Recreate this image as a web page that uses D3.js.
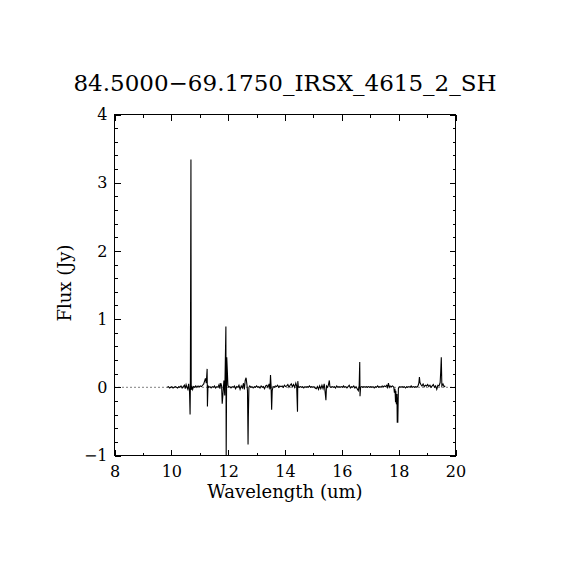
<!DOCTYPE html>
<html>
<head>
<meta charset="utf-8">
<script src="https://cdn.jsdelivr.net/npm/d3@7"></script>
<style>
	body { margin: 0; background: #fff; }
	text { font-family: 'DejaVu Serif', serif; fill: #000; }
</style>
</head>
<body>
<script>
// spectrum: wavelength (um) and flux (Jy)
const wave = [
	9.86, 9.90, 9.94, 9.98, 10.02, 10.06, 10.10, 10.14, 10.18, 10.22, 10.26, 10.30, 10.34, 10.38, 10.42, 10.46,
	10.49, 10.52, 10.55, 10.58, 10.61, 10.64, 10.66, 10.67, 10.69, 10.70, 10.72, 10.75, 10.78, 10.82, 10.86, 10.90,
	10.94, 10.98, 11.02, 11.06, 11.10, 11.14, 11.17, 11.20, 11.23, 11.26, 11.27, 11.29, 11.32, 11.36, 11.40, 11.44,
	11.48, 11.52, 11.56, 11.60, 11.64, 11.68, 11.71, 11.74, 11.77, 11.79, 11.82, 11.85, 11.88, 11.92, 11.93, 11.95,
	11.97, 11.99, 12.02, 12.06, 12.10, 12.14, 12.18, 12.22, 12.26, 12.30, 12.34, 12.38, 12.42, 12.46, 12.50, 12.54,
	12.57, 12.60, 12.63, 12.66, 12.68, 12.70, 12.71, 12.73, 12.76, 12.80, 12.84, 12.88, 12.92, 12.96, 13.00, 13.04,
	13.08, 13.12, 13.16, 13.20, 13.24, 13.28, 13.32, 13.36, 13.40, 13.44, 13.47, 13.49, 13.51, 13.53, 13.55, 13.58,
	13.62, 13.66, 13.70, 13.74, 13.78, 13.82, 13.86, 13.90, 13.94, 13.98, 14.02, 14.06, 14.10, 14.14, 14.18, 14.22,
	14.26, 14.30, 14.34, 14.38, 14.41, 14.44, 14.45, 14.47, 14.50, 14.54, 14.58, 14.62, 14.66, 14.70, 14.74, 14.78,
	14.82, 14.86, 14.90, 14.94, 14.98, 15.02, 15.06, 15.10, 15.14, 15.18, 15.22, 15.26, 15.30, 15.34, 15.38, 15.41,
	15.44, 15.46, 15.50, 15.53, 15.56, 15.58, 15.62, 15.66, 15.70, 15.74, 15.78, 15.82, 15.86, 15.90, 15.94, 15.98,
	16.02, 16.06, 16.10, 16.14, 16.18, 16.22, 16.26, 16.30, 16.34, 16.38, 16.42, 16.46, 16.50, 16.54, 16.58, 16.61,
	16.63, 16.64, 16.66, 16.70, 16.74, 16.78, 16.82, 16.86, 16.90, 16.94, 16.98, 17.02, 17.06, 17.10, 17.14, 17.18,
	17.22, 17.26, 17.30, 17.34, 17.38, 17.42, 17.46, 17.50, 17.54, 17.58, 17.61, 17.64, 17.67, 17.70, 17.74, 17.78,
	17.81, 17.83, 17.85, 17.87, 17.89, 17.90, 17.92, 17.94, 17.95, 17.96, 17.97, 17.99, 18.01, 18.04, 18.08, 18.12,
	18.16, 18.20, 18.24, 18.28, 18.32, 18.36, 18.40, 18.44, 18.48, 18.52, 18.56, 18.60, 18.64, 18.68, 18.71, 18.73,
	18.75, 18.78, 18.82, 18.86, 18.90, 18.94, 18.98, 19.02, 19.06, 19.10, 19.14, 19.18, 19.22, 19.26, 19.30, 19.34,
	19.38, 19.42, 19.46, 19.48, 19.50, 19.52, 19.56, 19.60, 19.64
];
const flux = [
	0.00, 0.01, -0.01, 0.00, 0.01, -0.01, 0.00, 0.01, 0.00, -0.01, 0.01, 0.00, 0.02, -0.01, 0.01, 0.03,
	-0.02, 0.04, 0.00, -0.03, 0.05, -0.06, -0.40, 0.03, 3.34, -0.04, 0.02, -0.03, 0.01, 0.00, 0.02, 0.00,
	0.02, 0.01, 0.02, 0.01, 0.03, 0.05, 0.09, 0.13, 0.06, 0.27, -0.28, 0.02, 0.00, 0.01, -0.01, 0.01,
	0.00, 0.02, -0.01, 0.01, 0.00, 0.04, -0.02, 0.06, 0.02, -0.24, -0.08, 0.10, -0.12, 0.89, -1.05, 0.44,
	0.25, 0.03, 0.00, 0.01, -0.01, 0.01, 0.00, 0.02, -0.02, 0.01, 0.00, 0.03, -0.03, 0.02, -0.01, 0.06,
	-0.03, 0.10, 0.14, 0.04, -0.05, -0.84, -0.45, 0.00, 0.02, 0.00, 0.01, -0.01, 0.01, 0.00, 0.02, 0.00,
	0.01, -0.01, 0.02, 0.00, 0.01, -0.02, 0.02, 0.03, 0.00, 0.05, -0.03, 0.18, 0.02, -0.33, -0.05, 0.01,
	0.00, 0.02, 0.01, 0.03, 0.00, 0.02, 0.01, 0.02, 0.00, 0.03, 0.01, 0.02, 0.04, 0.00, 0.03, 0.05,
	0.01, 0.04, 0.00, 0.06, 0.02, -0.36, 0.09, 0.01, 0.00, 0.01, 0.00, 0.01, -0.01, 0.01, 0.00, 0.01,
	0.00, 0.02, 0.00, 0.01, 0.00, 0.01, -0.01, -0.02, 0.01, -0.03, 0.02, -0.02, 0.03, -0.02, 0.05, -0.06,
	-0.19, 0.02, 0.00, 0.04, 0.10, 0.01, 0.00, 0.01, 0.00, 0.01, -0.01, 0.02, 0.00, 0.01, 0.00, 0.01,
	0.00, 0.02, 0.00, 0.01, -0.01, 0.01, 0.03, -0.01, 0.01, 0.00, 0.02, -0.01, 0.01, -0.02, -0.05, 0.02,
	0.37, -0.13, 0.00, 0.01, 0.00, 0.01, 0.00, 0.01, 0.00, 0.01, 0.00, 0.01, 0.00, 0.01, -0.01, 0.01,
	0.00, 0.02, 0.00, 0.01, 0.00, 0.02, 0.01, 0.02, 0.01, 0.03, 0.00, 0.06, 0.00, 0.02, 0.01, 0.02,
	0.01, 0.00, -0.08, -0.02, -0.22, -0.05, -0.25, -0.10, -0.52, -0.15, -0.52, -0.02, 0.00, 0.01, 0.00, 0.01,
	0.00, 0.01, -0.01, 0.01, 0.00, 0.01, 0.00, 0.02, 0.00, 0.01, 0.00, 0.01, 0.00, 0.02, 0.06, 0.15,
	0.07, 0.04, 0.02, 0.05, 0.01, 0.03, 0.02, 0.04, 0.01, 0.03, 0.00, 0.02, 0.04, 0.00, 0.02, -0.03,
	0.03, 0.02, 0.07, 0.23, 0.44, 0.02, 0.05, 0.01, 0.02
];

const xMajor = [8, 10, 12, 14, 16, 18, 20];
const xMinor = [9, 11, 13, 15, 17, 19];
const yMajor = [-1, 0, 1, 2, 3, 4];
const yMinor = [-0.8, -0.6, -0.4, -0.2, 0.2, 0.4, 0.6, 0.8, 1.2, 1.4, 1.6, 1.8, 2.2, 2.4, 2.6, 2.8, 3.2, 3.4, 3.6, 3.8];

const title = '84.5000\u221269.1750_IRSX_4615_2_SH';
const xTitle = 'Wavelength (um)';
const yTitle = 'Flux (Jy)';

const width = 570;
const height = 570;
const pLeft = 114.5;
const pRight = 455.5;
const pTop = 114.5;
const pBottom = 455.5;

const x = d3.scaleLinear().domain([8, 20]).range([pLeft, pRight]);
const y = d3.scaleLinear().domain([-1, 4]).range([pBottom, pTop]);

const svg = d3.select('body').append('svg').attr('width', width).attr('height', height);

svg.append('defs').append('clipPath').attr('id', 'plot')
	.append('rect').attr('x', pLeft).attr('y', pTop).attr('width', pRight - pLeft).attr('height', pBottom - pTop);

// zero line, dotted
svg.append('line')
	.attr('x1', x(8)).attr('x2', x(20))
	.attr('y1', y(0)).attr('y2', y(0))
	.attr('stroke', 'black')
	.attr('stroke-width', 1)
	.attr('stroke-dasharray', '1,3');

const points = wave.map((w, i) => [w, flux[i]]);
svg.append('path')
	.datum(points)
	.attr('clip-path', 'url(#plot)')
	.attr('fill', 'none')
	.attr('stroke', 'black')
	.attr('stroke-width', 1.1)
	.attr('d', d3.line().x((d) => x(d[0])).y((d) => y(d[1])));

/*
	axes, ticks pointing inward on all four sides
*/
const fmt = (d) => (d < 0 ? '\u2212' + Math.abs(d) : String(d));

const axes = [
	[d3.axisBottom(x), pBottom, true, 'x'],
	[d3.axisTop(x), pTop, false, 'x'],
	[d3.axisLeft(y), pLeft, true, 'y'],
	[d3.axisRight(y), pRight, false, 'y']
];

axes.forEach(([axis, pos, labelled, dir]) => {
	const major = dir === 'x' ? xMajor : yMajor;
	const minor = dir === 'x' ? xMinor : yMinor;
	const tr = dir === 'x' ? `translate(0,${pos})` : `translate(${pos},0)`;

	const gMaj = svg.append('g').attr('transform', tr)
		.call(axis.tickValues(major).tickSize(-6).tickPadding(dir === 'x' ? 10 : 7)
			.tickFormat(labelled ? fmt : () => ''));
	const gMin = svg.append('g').attr('transform', tr)
		.call(axis.tickValues(minor).tickSize(-3).tickFormat(() => ''));

	[gMaj, gMin].forEach((g) => {
		g.select('.domain').remove();
		g.selectAll('line').attr('stroke', 'black').attr('shape-rendering', 'crispEdges');
		g.selectAll('text').style('font-size', '16px').attr('font-family', 'DejaVu Serif').attr('fill', 'black');
	});
});

svg.append('rect')
	.attr('x', pLeft).attr('y', pTop)
	.attr('width', pRight - pLeft).attr('height', pBottom - pTop)
	.attr('fill', 'none')
	.attr('stroke', 'black')
	.attr('stroke-width', 1)
	.attr('shape-rendering', 'crispEdges');

svg.append('text')
	.attr('x', 285).attr('y', 91)
	.attr('text-anchor', 'middle')
	.style('font-size', '23px')
	.text(title);

svg.append('text')
	.attr('x', 285).attr('y', 498)
	.attr('text-anchor', 'middle')
	.style('font-size', '18px')
	.text(xTitle);

svg.append('text')
	.attr('transform', 'translate(71,283) rotate(-90)')
	.attr('text-anchor', 'middle')
	.style('font-size', '18px')
	.text(yTitle);
</script>
</body>
</html>
